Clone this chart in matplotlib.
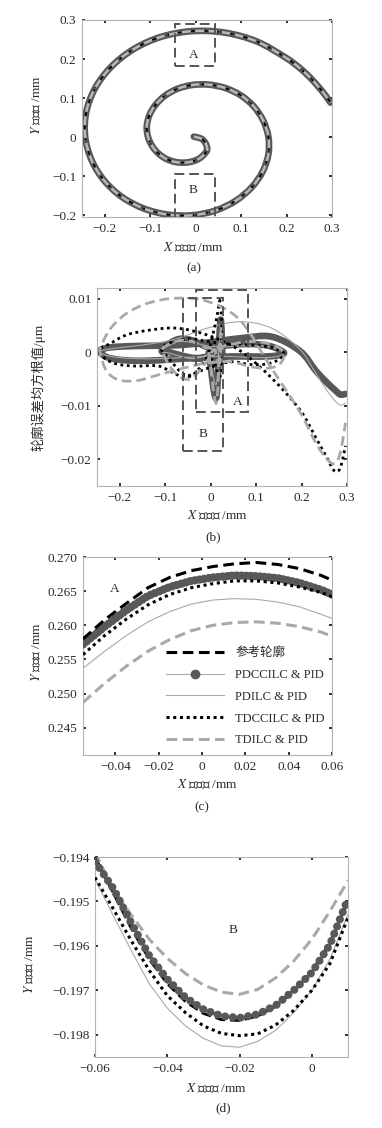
import numpy as np
import matplotlib.pyplot as plt
from matplotlib.lines import Line2D
from matplotlib.patches import Rectangle, PathPatch
from matplotlib.path import Path

plt.rcParams['font.family'] = ['Liberation Serif', 'Noto Sans CJK SC']
plt.rcParams['mathtext.fontset'] = 'stix'

# ---- spiral path (clockwise angle from +x, radius in mm) ----
spiral_angle_deg = [0, 15, 30, 45, 60, 75, 90, 105, 120, 135, 150, 165, 180, 195, 210, 225,
                    240, 255, 270, 285, 300, 315, 330, 345, 360, 375, 390, 405, 420, 435,
                    450, 465, 480, 495, 510, 525, 540, 555, 570, 585, 600, 615, 630, 645,
                    660, 675, 684, 691, 696, 700, 704]
spiral_radius = [0.003, 0.020, 0.033, 0.046, 0.052, 0.058, 0.0635, 0.069, 0.075, 0.081, 0.0865,
                 0.092, 0.098, 0.104, 0.1095, 0.115, 0.121, 0.127, 0.1325, 0.138, 0.144, 0.150,
                 0.1555, 0.161, 0.167, 0.173, 0.1785, 0.184, 0.190, 0.196, 0.2015, 0.207, 0.213,
                 0.219, 0.2245, 0.230, 0.236, 0.242, 0.2475, 0.253, 0.259, 0.265, 0.2705, 0.276,
                 0.282, 0.288, 0.295, 0.301, 0.306, 0.311, 0.316]
spiral_cx, spiral_cy = -0.007, 0.001

# ---- contour error along the path (panel b), same samples as the spiral ----
err_tdilc = [0.0, -0.0095, 0.003, 0.001, -0.002, 0.0005, -0.0015, -0.0035, -0.0050, -0.0048,
             -0.0035, -0.0018, 0.0, 0.0004, 0.0010, 0.0016, 0.0022, 0.0020, 0.0008, 0.0012,
             0.0018, 0.0020, 0.0016, 0.0009, 0.0, -0.0012, -0.0025, -0.0030, -0.0027, -0.0018,
             -0.0020, -0.0030, -0.0042, -0.0053, -0.0052, -0.0035, 0.0, 0.0012, 0.0043, 0.0072,
             0.0092, 0.0101, 0.0095, 0.0060, -0.0030, -0.0112, -0.0170, -0.0200, -0.0208,
             -0.0188, -0.0132]
err_tdccilc = [0.0, 0.0060, 0.0093, -0.0020, -0.0045, -0.0020, -0.0010, -0.0030, -0.0045,
               -0.0038, -0.0022, -0.0008, 0.0, 0.0005, 0.0012, 0.0018, 0.0022, 0.0025, 0.0020,
               0.0016, 0.0015, 0.0013, 0.0010, 0.0005, 0.0, -0.0006, -0.0015, -0.0022, -0.0023,
               -0.0018, -0.0030, -0.0045, -0.0026, -0.0026, -0.0023, -0.0014, 0.0, 0.0008,
               0.0016, 0.0032, 0.0041, 0.0045, 0.0032, 0.0003, -0.0048, -0.0108, -0.0160,
               -0.0198, -0.0222, -0.0216, -0.0175]
err_pdccilc = [0.0, -0.0085, 0.0060, -0.0015, 0.0025, -0.0010, -0.0008, -0.0012, -0.0010,
               -0.0006, -0.0002, 0.0001, 0.0, 0.0003, 0.0010, 0.0018, 0.0025, 0.0022, 0.0010,
               0.0012, 0.0015, 0.0015, 0.0012, 0.0006, 0.0, -0.0003, -0.0006, -0.0008, -0.0008,
               -0.0008, -0.0010, -0.0012, -0.0015, -0.0016, -0.0014, -0.0009, 0.0, 0.0005,
               0.0009, 0.0011, 0.0012, 0.0013, 0.0018, 0.0026, 0.0029, 0.0002, -0.0035,
               -0.0057, -0.0070, -0.0079, -0.0078]
err_pdilc = [0.0, -0.0060, 0.0050, 0.0, 0.0015, -0.0005, -0.0005, -0.0010, -0.0012, -0.0008,
             -0.0004, -0.0001, 0.0, 0.0003, 0.0008, 0.0014, 0.0020, 0.0018, 0.0012, 0.0010,
             0.0012, 0.0012, 0.0010, 0.0005, 0.0, -0.0004, -0.0008, -0.0010, -0.0010, -0.0008,
             -0.0008, -0.0010, -0.0012, -0.0012, -0.0010, -0.0006, 0.0, 0.0003, 0.0006, 0.0010,
             0.0015, 0.0025, 0.0045, 0.0057, 0.0045, 0.0005, -0.0040, -0.0072, -0.0090,
             -0.0099, -0.0095]

# ---- panel c: zoom A ----
xc = [-0.055, -0.045, -0.035, -0.025, -0.015, -0.005, 0.005, 0.015, 0.025, 0.035, 0.045, 0.055, 0.06]
yc_ref = [0.2580, 0.2608, 0.2632, 0.2655, 0.2670, 0.2680, 0.2686, 0.2690, 0.2692, 0.2689, 0.2683, 0.2673, 0.2666]
yc_pdccilc = [0.2572, 0.2598, 0.2622, 0.2643, 0.2656, 0.2665, 0.2670, 0.2673, 0.2672, 0.2669, 0.2662, 0.2652, 0.2645]
yc_tdccilc = [0.2557, 0.2585, 0.2609, 0.2630, 0.2645, 0.2655, 0.2661, 0.2665, 0.2665, 0.2662, 0.2656, 0.2648, 0.2642]
yc_pdilc = [0.2537, 0.2562, 0.2585, 0.2605, 0.2620, 0.2631, 0.2637, 0.2639, 0.2638, 0.2634, 0.2627, 0.2616, 0.2610]
yc_tdilc = [0.2487, 0.2515, 0.2540, 0.2562, 0.2579, 0.2592, 0.2600, 0.2604, 0.2605, 0.2603, 0.2598, 0.2590, 0.2584]

# ---- panel d: zoom B ----
xd = [-0.06, -0.055, -0.05, -0.045, -0.04, -0.035, -0.03, -0.025, -0.02, -0.015, -0.01, -0.005, 0.0, 0.005, 0.01]
yd_ref = [-0.19400, -0.19480, -0.19560, -0.19630, -0.19685, -0.19725, -0.19752, -0.19766, -0.19768,
          -0.19758, -0.19736, -0.19702, -0.19658, -0.19592, -0.19500]
yd_pdccilc = [-0.19410, -0.19470, -0.19548, -0.19622, -0.19675, -0.19716, -0.19743, -0.19758, -0.19762,
              -0.19754, -0.19734, -0.19700, -0.19660, -0.19597, -0.19494]
yd_tdccilc = [-0.19446, -0.19516, -0.19588, -0.19655, -0.19712, -0.19750, -0.19780, -0.19797, -0.19802,
              -0.19798, -0.19778, -0.19745, -0.19700, -0.19640, -0.19536]
yd_pdilc = [-0.19450, -0.19531, -0.19610, -0.19685, -0.19740, -0.19780, -0.19808, -0.19825, -0.19828,
            -0.19815, -0.19790, -0.19750, -0.19700, -0.19630, -0.19529]
yd_tdilc = [-0.19390, -0.19472, -0.19530, -0.19585, -0.19628, -0.19662, -0.19688, -0.19704, -0.19709,
            -0.19698, -0.19672, -0.19634, -0.19585, -0.19522, -0.19453]

legend_labels = ['参考轮廓', 'PDCCILC & PID', 'PDILC & PID', 'TDCCILC & PID', 'TDILC & PID']

DARK = '#585858'
LIGHT = '#a9a9a9'
TXT = '#2a2a2a'

phi = np.radians(spiral_angle_deg)
rad = np.array(spiral_radius)
sx = spiral_cx + rad * np.cos(phi)
sy = spiral_cy - rad * np.sin(phi)


def smooth_curve(ax, x, y, **kw):
    # draw a polyline through the samples as a Catmull-Rom style Bezier path
    p = np.column_stack([x, y])
    n = len(p)
    verts = [p[0]]
    codes = [Path.MOVETO]
    for i in range(n - 1):
        p0, p1 = p[max(i - 1, 0)], p[i]
        p2, p3 = p[i + 1], p[min(i + 2, n - 1)]
        verts += [p1 + (p2 - p0) / 6, p2 - (p3 - p1) / 6, p2]
        codes += [Path.CURVE4] * 3
    ax.add_patch(PathPatch(Path(verts, codes), fill=False, **kw))


def fmt(v, nd):
    if abs(v) < 1e-12:
        return '0'
    return f'{v:.{nd}f}'.replace('-', '\u2212')


def style(ax, xt, xnd, yt, ynd):
    for sp in ax.spines.values():
        sp.set_color('#b4b4b4')
        sp.set_linewidth(0.8)
    ax.tick_params(direction='in', length=2.5, width=1.3, color='#222222', top=True, right=True,
                   labelsize=9.5, labelcolor=TXT, pad=4)
    ax.set_xticks(xt)
    ax.set_xticklabels([fmt(v, xnd) for v in xt])
    ax.set_yticks(yt)
    ax.set_yticklabels([fmt(v, ynd) for v in yt])


def labels(ax, xl, xpos, yl, ypos):
    ax.text(xpos[0], xpos[1], xl, transform=ax.transAxes, ha='center', va='center',
            fontsize=9.5, color=TXT)
    ax.text(ypos[0], ypos[1], yl, transform=ax.transAxes, ha='center', va='center',
            fontsize=9.5, color=TXT, rotation=90)


def box(ax, x0, y0, x1, y1):
    ax.add_patch(Rectangle((x0, y0), x1 - x0, y1 - y0, fill=False, edgecolor='#555555',
                           lw=1.4, linestyle=(0, (5, 2.5)), zorder=6))


fig = plt.figure(figsize=(3.82, 11.28), dpi=100)
W, H = 382.0, 1128.0


def add_axes(l, r, t, b):
    return fig.add_axes([l / W, 1 - b / H, (r - l) / W, (b - t) / H])


# (a) spiral
ax = add_axes(82, 332, 20, 217)
smooth_curve(ax, sx, sy, edgecolor=DARK, lw=4.8, capstyle='round', zorder=2)
smooth_curve(ax, sx, sy, edgecolor='black', lw=1.2, linestyle=(0, (1, 1.5)), zorder=3)
smooth_curve(ax, sx, sy, edgecolor='black', lw=1.0, linestyle=(0, (3.5, 2)), zorder=3)
smooth_curve(ax, sx, sy, edgecolor='#b9b9b9', lw=1.8, linestyle=(0, (3.5, 1.8)), zorder=4)
box(ax, -0.046, 0.183, 0.042, 0.290)
box(ax, -0.046, -0.212, 0.042, -0.096)
ax.text(-0.005, 0.209, 'A', ha='center', va='center', fontsize=9.5, color=TXT)
ax.text(-0.005, -0.137, 'B', ha='center', va='center', fontsize=9.5, color=TXT)
ax.set_xlim(-0.25, 0.3)
ax.set_ylim(-0.205, 0.3)
style(ax, [-0.2, -0.1, 0, 0.1, 0.2, 0.3], 1, [-0.2, -0.1, 0, 0.1, 0.2, 0.3], 1)
labels(ax, '$X$ 轴位移 /mm', (0.445, -0.157), '$Y$ 轴位移 /mm', (-0.18, 0.57))
fig.text(194 / W, 1 - 268 / H, '(a)', ha='center', va='center', fontsize=9.5, color=TXT)

# (b) contour error
ax = add_axes(97, 347, 288, 486)
smooth_curve(ax, sx, err_pdccilc, edgecolor=DARK, lw=4.8, joinstyle='round', capstyle='round', zorder=2)
smooth_curve(ax, sx, err_pdilc, edgecolor=LIGHT, lw=0.8, zorder=3)
smooth_curve(ax, sx, err_tdccilc, edgecolor='black', lw=2.0, linestyle=(0, (1, 1.3)), zorder=4)
smooth_curve(ax, sx, err_tdilc, edgecolor=LIGHT, lw=2.0, linestyle=(0, (3.5, 1.8)), zorder=5)
box(ax, -0.0322, -0.0112, 0.0829, 0.0117)
box(ax, -0.0615, -0.0184, 0.0279, 0.0101)
ax.text(0.0587, -0.0093, 'A', ha='center', va='center', fontsize=9.5, color=TXT, zorder=7)
ax.text(-0.016, -0.0153, 'B', ha='center', va='center', fontsize=9.5, color=TXT, zorder=7)
ax.set_xlim(-0.25, 0.3)
ax.set_ylim(-0.025, 0.012)
style(ax, [-0.2, -0.1, 0, 0.1, 0.2, 0.3], 1, [-0.02, -0.01, 0, 0.01], 2)
labels(ax, '$X$ 轴位移 /mm', (0.484, -0.152), '轮廓误差均方根值/μm', (-0.236, 0.5))
fig.text(213 / W, 1 - 537 / H, '(b)', ha='center', va='center', fontsize=9.5, color=TXT)

# (c) zoom A
ax = add_axes(83, 332, 557, 755)
ax.plot(xc, yc_tdilc, color=LIGHT, lw=2.2, dashes=(3.5, 1.8), zorder=2)
ax.plot(xc, yc_pdilc, color=LIGHT, lw=0.8, zorder=2)
ax.plot(xc, yc_pdccilc, color=DARK, lw=6, linestyle=(0, (0.01, 0.55)), dash_capstyle='round', zorder=3)
ax.plot(xc, yc_tdccilc, color='black', lw=2.2, linestyle=(0, (1, 1.2)), zorder=4)
ax.plot(xc, yc_ref, color='black', lw=2.2, dashes=(3.5, 1.8), zorder=4)
ax.text(-0.0405, 0.2653, 'A', ha='center', va='center', fontsize=9.5, color=TXT)
ax.set_xlim(-0.055, 0.06)
ax.set_ylim(0.241, 0.270)
style(ax, [-0.04, -0.02, 0, 0.02, 0.04, 0.06], 2, [0.245, 0.25, 0.255, 0.26, 0.265, 0.27], 3)
labels(ax, '$X$ 轴位移 /mm', (0.502, -0.152), '$Y$ 轴位移 /mm', (-0.185, 0.52))
fig.text(202 / W, 1 - 807 / H, '(c)', ha='center', va='center', fontsize=9.5, color=TXT)

handles = [
    Line2D([], [], color='black', lw=2.2, dashes=(3.5, 1.8)),
    Line2D([], [], color=LIGHT, lw=0.8, marker='o', markersize=6,
           markerfacecolor=DARK, markeredgecolor=DARK),
    Line2D([], [], color=LIGHT, lw=0.8),
    Line2D([], [], color='black', lw=2.2, linestyle=(0, (1, 1.2))),
    Line2D([], [], color=LIGHT, lw=2.2, dashes=(3.5, 1.8)),
]
ax.legend(handles, legend_labels, loc='lower left', bbox_to_anchor=(0.3, 0.0), frameon=False,
          fontsize=9, handlelength=4.6, handletextpad=0.9, labelspacing=0.78, borderpad=0.2,
          numpoints=1, labelcolor=TXT)

# (d) zoom B
ax = add_axes(95, 348, 857, 1057)
ax.plot(xd, yd_tdilc, color=LIGHT, lw=2.2, dashes=(3.5, 1.8), zorder=2)
ax.plot(xd, yd_pdilc, color=LIGHT, lw=0.8, zorder=2)
ax.plot(xd, yd_tdccilc, color='black', lw=2.2, linestyle=(0, (1, 1.2)), zorder=3)
ax.plot(xd, yd_ref, color='black', lw=2.0, dashes=(3.5, 1.8), zorder=3)
ax.plot(xd, yd_pdccilc, color=DARK, lw=5.8, linestyle=(0, (0.01, 0.95)), dash_capstyle='round', zorder=4)
ax.text(-0.0218, -0.19564, 'B', ha='center', va='center', fontsize=9.5, color=TXT)
ax.set_xlim(-0.06, 0.01)
ax.set_ylim(-0.1985, -0.194)
style(ax, [-0.06, -0.04, -0.02, 0], 2, [-0.198, -0.197, -0.196, -0.195, -0.194], 3)
labels(ax, '$X$ 轴位移 /mm', (0.48, -0.16), '$Y$ 轴位移 /mm', (-0.257, 0.465))
fig.text(223 / W, 1 - 1108 / H, '(d)', ha='center', va='center', fontsize=9.5, color=TXT)

fig.savefig('out.png', dpi=100)
